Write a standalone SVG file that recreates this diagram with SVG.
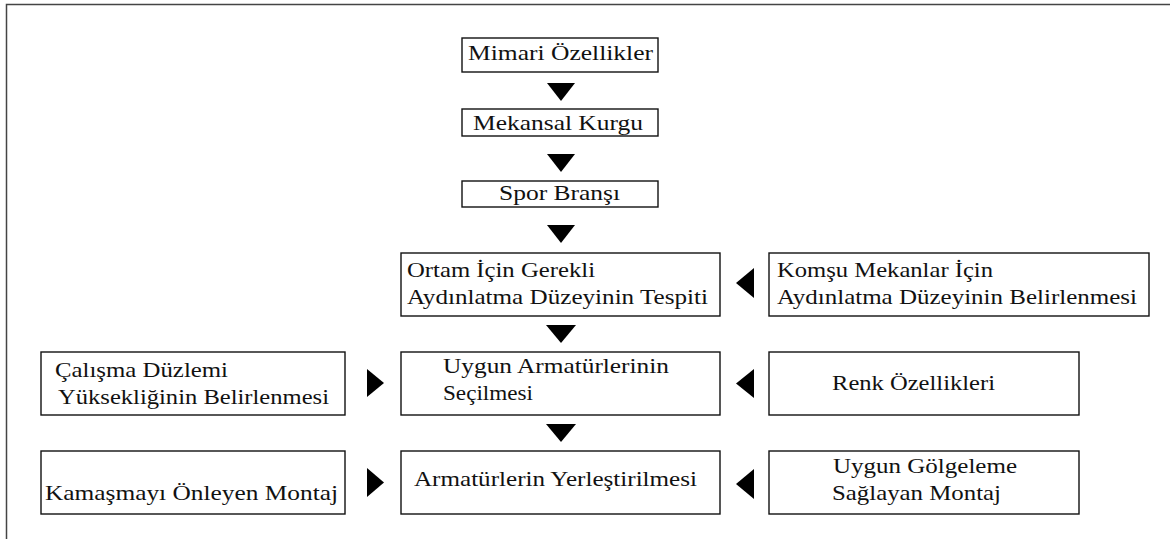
<svg xmlns="http://www.w3.org/2000/svg" width="1170" height="539" viewBox="0 0 1170 539">
<style>
.box{fill:#fff;stroke:#111;stroke-width:1.4}
.t{font-size:22px;fill:#111}
.ar{fill:#000}
</style>
<rect x="0" y="0" width="1170" height="539" fill="#fff"/>
<path d="M6.5,539 V4.5 H1170" fill="none" stroke="#444" stroke-width="1.5"/>
<g font-family="Liberation Serif, Times New Roman, Times, DejaVu Serif, Noto Serif, FreeSerif, serif">
<g id="n1"><rect class="box" x="462" y="38" width="196" height="34"/><text class="t" x="468" y="60" textLength="185" lengthAdjust="spacingAndGlyphs">Mimari Özellikler</text></g>
<g id="n2"><rect class="box" x="462" y="109" width="196" height="27"/><text class="t" x="473" y="130" textLength="170" lengthAdjust="spacingAndGlyphs">Mekansal Kurgu</text></g>
<g id="n3"><rect class="box" x="462" y="181" width="196" height="26"/><text class="t" x="499" y="200" textLength="121" lengthAdjust="spacingAndGlyphs">Spor Branşı</text></g>
<g id="n4"><rect class="box" x="401" y="253" width="319" height="63"/><text class="t" x="407" y="277" textLength="188" lengthAdjust="spacingAndGlyphs">Ortam İçin Gerekli</text><text class="t" x="407" y="304" textLength="301" lengthAdjust="spacingAndGlyphs">Aydınlatma Düzeyinin Tespiti</text></g>
<g id="n5"><rect class="box" x="769" y="253" width="380" height="63"/><text class="t" x="777" y="277" textLength="216" lengthAdjust="spacingAndGlyphs">Komşu Mekanlar İçin</text><text class="t" x="777" y="304" textLength="360" lengthAdjust="spacingAndGlyphs">Aydınlatma Düzeyinin Belirlenmesi</text></g>
<g id="n6"><rect class="box" x="41" y="352" width="304" height="63"/><text class="t" x="55" y="377" textLength="173" lengthAdjust="spacingAndGlyphs">Çalışma Düzlemi</text><text class="t" x="58" y="404" textLength="271" lengthAdjust="spacingAndGlyphs">Yüksekliğinin Belirlenmesi</text></g>
<g id="n7"><rect class="box" x="401" y="352" width="319" height="63"/><text class="t" x="443" y="373" textLength="226" lengthAdjust="spacingAndGlyphs">Uygun Armatürlerinin</text><text class="t" x="443" y="400" textLength="90" lengthAdjust="spacingAndGlyphs">Seçilmesi</text></g>
<g id="n8"><rect class="box" x="769" y="352" width="310" height="63"/><text class="t" x="832" y="390" textLength="163" lengthAdjust="spacingAndGlyphs">Renk Özellikleri</text></g>
<g id="n9"><rect class="box" x="41" y="451" width="304" height="63"/><text class="t" x="45" y="500" textLength="293" lengthAdjust="spacingAndGlyphs">Kamaşmayı Önleyen Montaj</text></g>
<g id="n10"><rect class="box" x="401" y="451" width="319" height="63"/><text class="t" x="414" y="486" textLength="283" lengthAdjust="spacingAndGlyphs">Armatürlerin Yerleştirilmesi</text></g>
<g id="n11"><rect class="box" x="769" y="451" width="310" height="63"/><text class="t" x="833" y="473" textLength="184" lengthAdjust="spacingAndGlyphs">Uygun Gölgeleme</text><text class="t" x="832" y="500" textLength="169" lengthAdjust="spacingAndGlyphs">Sağlayan Montaj</text></g>
</g>
<g id="connectors">
<polygon class="ar" points="547,83 575,83 561,101"/>
<polygon class="ar" points="547,154 575,154 561,172"/>
<polygon class="ar" points="547,225 575,225 561,243"/>
<polygon class="ar" points="546,325 576,325 561,343"/>
<polygon class="ar" points="546,424 576,424 561,442"/>
<polygon class="ar" points="367,369 384,383 367,397"/>
<polygon class="ar" points="367,468 384,482.5 367,497"/>
<polygon class="ar" points="754,268 736,283 754,298"/>
<polygon class="ar" points="754,369 736,383.5 754,398"/>
<polygon class="ar" points="754,469 736,484 754,499"/>
</g>
</svg>
